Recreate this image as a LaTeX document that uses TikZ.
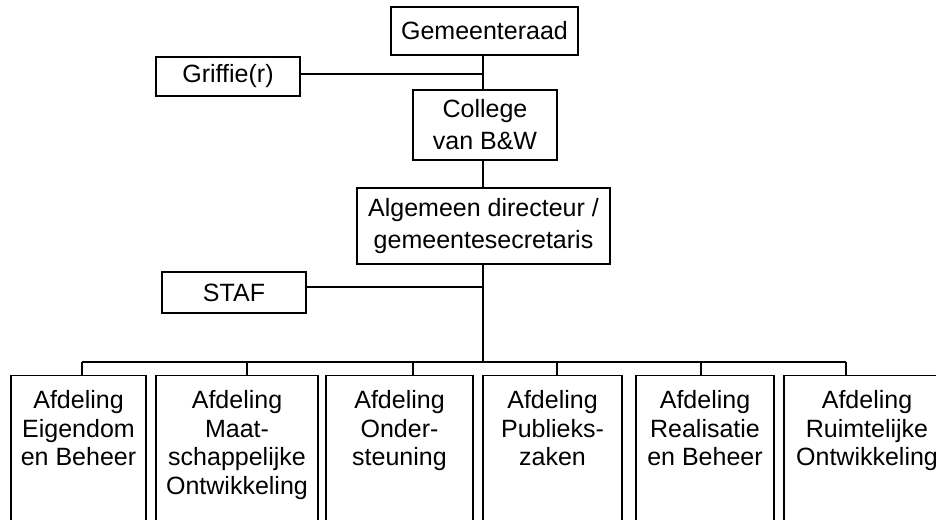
\documentclass[tikz,border=0pt]{standalone}
\usepackage{fontspec}
\setmainfont{Liberation Sans}
\begin{document}
\begin{tikzpicture}[x=1pt,y=-1pt,
  box/.style={draw, line width=1.1pt, inner sep=0pt, align=center, font=\fontsize{25}{32}\selectfont},
  dept/.style={draw, line width=1.1pt, inner sep=0pt, anchor=north, minimum height=175pt},
  depttext/.style={anchor=north, align=center, inner sep=0pt, yshift=-15.5pt, font=\fontsize{25}{28.5}\selectfont},
  conn/.style={line width=1.1pt}]
\useasboundingbox (0,0) rectangle (936,519);
\clip (0,0) rectangle (936,519);
% top boxes
\node[box, minimum width=187pt, minimum height=48pt] (gr) at (484.5,31) {Gemeenteraad};
\node[box, minimum width=144pt, minimum height=39pt] (gf) at (228,76.5) {Griffie(r)};
\node[box, minimum width=144pt, minimum height=70pt] (col) at (485,125) {College\\van B\&W};
\node[box, minimum width=253pt, minimum height=76pt] (alg) at (483.5,226) {Algemeen directeur /\\gemeentesecretaris};
\node[box, minimum width=144pt, minimum height=41pt] (staf) at (234,292.5) {STAF};
% departments
\node[dept, minimum width=135pt, label={[depttext]north:Afdeling\\Eigendom\\en Beheer}] (d1) at (78.5,375) {};
\node[dept, minimum width=162pt, label={[depttext]north:Afdeling\\Maat-\\schappelijke\\Ontwikkeling}] (d2) at (237,375) {};
\node[dept, minimum width=147pt, label={[depttext]north:Afdeling\\Onder-\\steuning}] (d3) at (399.5,375) {};
\node[dept, minimum width=139pt, label={[depttext]north:Afdeling\\Publieks-\\zaken}] (d4) at (552.5,375) {};
\node[dept, minimum width=138pt, label={[depttext]north:Afdeling\\Realisatie\\en Beheer}] (d5) at (705,375) {};
\node[dept, minimum width=166pt, label={[depttext]north:Afdeling\\Ruimtelijke\\Ontwikkeling}] (d6) at (867,375) {};
% junctions
\coordinate (jg) at (483,74);
\coordinate (js) at (483,287);
\coordinate (jb) at (483,362);
\coordinate (b1) at (82,362);
\coordinate (b2) at (247,362);
\coordinate (b3) at (413,362);
\coordinate (b4) at (557,362);
\coordinate (b5) at (701,362);
\coordinate (b6) at (846,362);
% connectors
\draw[conn] (gr.south -| jg) -- (col.north -| jg);
\draw[conn] (gf.east |- jg) -- (jg);
\draw[conn] (col.south -| jg) -- (alg.north -| jg);
\draw[conn] (alg.south -| jb) -- (jb);
\draw[conn] (staf.east |- js) -- (js);
\draw[conn] (b1) -- (b6);
\foreach \i in {1,...,6} {\draw[conn] (b\i) -- (b\i |- d\i.north);}
\end{tikzpicture}
\end{document}
